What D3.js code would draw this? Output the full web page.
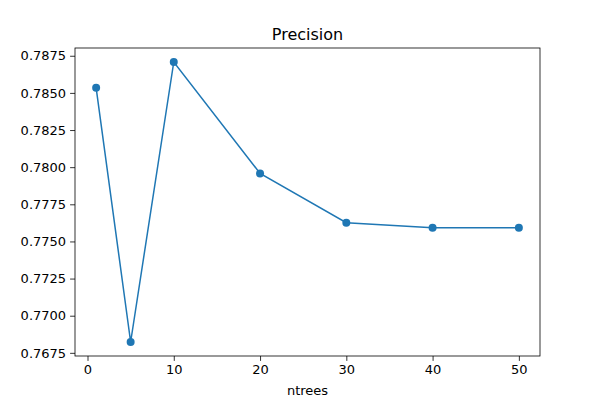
<!DOCTYPE html>
<html>
<head>
<meta charset="utf-8">
<script src="https://cdn.jsdelivr.net/npm/d3@7"></script>
<style>
  body { margin: 0; background: #fff; }
  text { font-family: "DejaVu Sans", sans-serif; }
</style>
</head>
<body>
<script>
const ntrees = [1, 5, 10, 20, 30, 40, 50];
const precision = [0.78534, 0.76823, 0.78708, 0.77958, 0.77626, 0.77592, 0.77592];
const xTicks = [0, 10, 20, 30, 40, 50];
const yTicks = d3.range(0, 9).map(i => 0.7675 + i * 0.0025);

const width = 600, height = 400;
const margin = { top: 48, right: 60, bottom: 44, left: 75 };
const innerW = width - margin.left - margin.right;
const innerH = height - margin.top - margin.bottom;

const svg = d3.select('body').append('svg')
  .attr('width', width).attr('height', height);

const xPad = (d3.max(ntrees) - d3.min(ntrees)) * 0.05;
const yPad = (d3.max(precision) - d3.min(precision)) * 0.05;
const x = d3.scaleLinear()
  .domain([d3.min(ntrees) - xPad, d3.max(ntrees) + xPad])
  .range([0, innerW]);
const y = d3.scaleLinear()
  .domain([d3.min(precision) - yPad, d3.max(precision) + yPad])
  .range([innerH, 0]);

const g = svg.append('g')
  .attr('transform', `translate(${margin.left},${margin.top})`);

const xAxis = g.append('g')
  .attr('transform', `translate(0,${innerH})`)
  .call(d3.axisBottom(x).tickValues(xTicks).tickSize(4.9).tickPadding(4));
const yAxis = g.append('g')
  .call(d3.axisLeft(y).tickValues(yTicks).tickFormat(d3.format('.4f')).tickSize(4.9).tickPadding(4));
[xAxis, yAxis].forEach(a => {
  a.selectAll('text').attr('font-size', 13).attr('fill', '#000')
    .style('font-family', '"DejaVu Sans", sans-serif');
  a.selectAll('line').attr('stroke', '#000').attr('stroke-width', 0.8);
  a.select('.domain').remove();
});

g.append('rect').attr('width', innerW).attr('height', innerH)
  .attr('fill', 'none').attr('stroke', '#000').attr('stroke-width', 0.8);

const line = d3.line().x((d, i) => x(ntrees[i])).y(d => y(d));
g.append('path').datum(precision)
  .attr('d', line).attr('fill', 'none')
  .attr('stroke', '#1f77b4').attr('stroke-width', 1.5);

g.selectAll('circle').data(precision).enter().append('circle')
  .attr('cx', (d, i) => x(ntrees[i])).attr('cy', d => y(d))
  .attr('r', 4).attr('fill', '#1f77b4');

svg.append('text').attr('x', margin.left + innerW / 2).attr('y', margin.top - 8)
  .attr('text-anchor', 'middle').attr('font-size', 16).text('Precision');
svg.append('text').attr('x', margin.left + innerW / 2).attr('y', height - 5)
  .attr('text-anchor', 'middle').attr('font-size', 13).text('ntrees');
</script>
</body>
</html>
